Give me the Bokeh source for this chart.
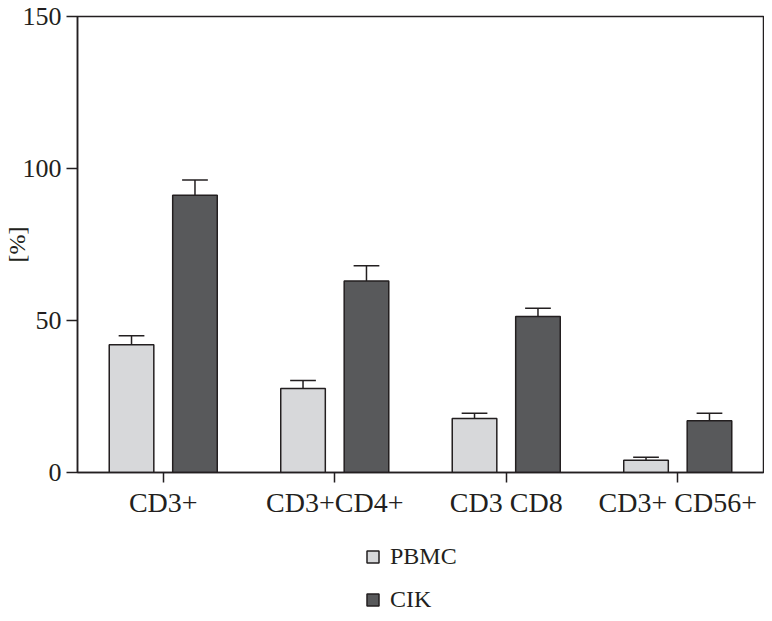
from bokeh.plotting import figure
from bokeh.layouts import column
from bokeh.models import ColumnDataSource, Range1d, FactorRange, FixedTicker, Legend, LegendItem
from bokeh.transform import dodge
from bokeh.embed import file_html
from bokeh.resources import INLINE

categories = ["CD3+", "CD3+CD4+", "CD3 CD8", "CD3+ CD56+"]
pbmc = [42.0, 27.6, 17.8, 4.0]
pbmc_err = [3.0, 2.7, 1.7, 1.0]
cik = [91.2, 63.0, 51.3, 17.0]
cik_err = [5.0, 5.0, 2.7, 2.5]
y_ticks = [0, 50, 100, 150]
series_names = ["PBMC", "CIK"]
series_colors = ["#d7d8da", "#58595b"]

FONT = "Liberation Serif"
INK = "#231f20"

src = ColumnDataSource(dict(
    cat=categories,
    pbmc=pbmc,
    pbmc_hi=[v + e for v, e in zip(pbmc, pbmc_err)],
    cik=cik,
    cik_hi=[v + e for v, e in zip(cik, cik_err)],
))

p = figure(width=764, height=525, x_range=FactorRange(*categories, range_padding=0),
           y_range=Range1d(0, 150), output_backend="svg", toolbar_location=None,
           min_border_left=71, min_border_right=1, min_border_top=16, min_border_bottom=53)

p.xgrid.visible = False
p.ygrid.visible = False
p.outline_line_color = INK
p.outline_line_width = 1.5

off = 0.185
bw = 0.26
cap = 0.075

p.vbar(x=dodge("cat", -off, range=p.x_range), top="pbmc", width=bw, source=src,
       fill_color=series_colors[0], line_color=INK, line_width=1.5)
p.vbar(x=dodge("cat", off, range=p.x_range), top="cik", width=bw, source=src,
       fill_color=series_colors[1], line_color=INK, line_width=1.5)

for o, v, hi in [(-off, "pbmc", "pbmc_hi"), (off, "cik", "cik_hi")]:
    p.segment(x0=dodge("cat", o, range=p.x_range), y0=v, x1=dodge("cat", o, range=p.x_range), y1=hi,
              source=src, line_color=INK, line_width=1.5)
    p.segment(x0=dodge("cat", o - cap, range=p.x_range), y0=hi, x1=dodge("cat", o + cap, range=p.x_range), y1=hi,
              source=src, line_color=INK, line_width=1.5)

xa = p.xaxis[0]
xa.major_tick_out = 10
xa.major_tick_in = 0
xa.axis_line_color = INK
xa.axis_line_width = 1.5
xa.major_tick_line_color = INK
xa.major_tick_line_width = 1.5
xa.major_label_text_font = FONT
xa.major_label_text_font_size = "28px"
xa.major_label_text_color = INK
xa.major_label_standoff = 4

ya = p.yaxis[0]
ya.ticker = FixedTicker(ticks=y_ticks)
ya.minor_tick_line_color = None
ya.major_tick_out = 11
ya.major_tick_in = 0
ya.axis_line_color = INK
ya.axis_line_width = 1.5
ya.major_tick_line_color = INK
ya.major_tick_line_width = 1.5
ya.major_label_text_font = FONT
ya.major_label_text_font_size = "26px"
ya.major_label_text_color = INK
ya.major_label_standoff = 5
ya.axis_label = "[%]"
ya.axis_label_text_font = FONT
ya.axis_label_text_font_size = "24px"
ya.axis_label_text_font_style = "normal"
ya.axis_label_text_color = INK
ya.axis_label_standoff = -10

# legend strip below the chart (legend-only renderers hold no visible data)
lg = figure(width=764, height=88, x_range=Range1d(0, 1), y_range=Range1d(0, 1),
            output_backend="svg", toolbar_location=None, x_axis_type=None, y_axis_type=None,
            min_border=0)
lg.xgrid.visible = False
lg.ygrid.visible = False
lg.outline_line_color = None
items = []
for name, col in zip(series_names, series_colors):
    r = lg.vbar(x=[float("nan")], top=[float("nan")], width=0.1,
                fill_color=col, line_color=INK, line_width=1.5)
    items.append(LegendItem(label=name, renderers=[r]))
legend = Legend(items=items, location=(288, 0), orientation="vertical",
                padding=0, margin=0, spacing=16, border_line_color=None, background_fill_alpha=0,
                glyph_width=15, glyph_height=15, label_standoff=10,
                label_text_font=FONT, label_text_font_size="24px", label_text_color=INK)
lg.add_layout(legend, "center")

layout = column(p, lg, spacing=0)
open("out.html", "w").write(file_html(layout, INLINE))
